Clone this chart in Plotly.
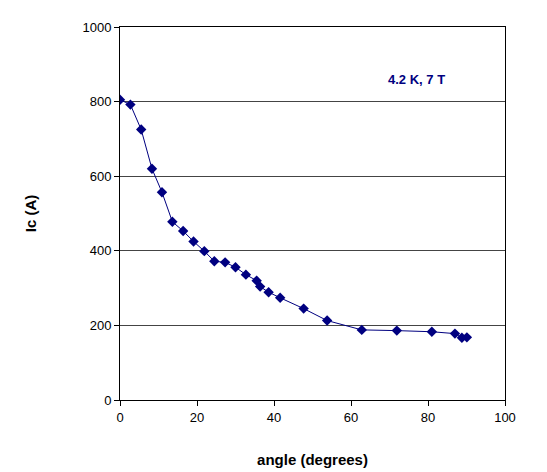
import plotly.graph_objects as go

angle = [0, 2.7, 5.5, 8.3, 10.9, 13.6, 16.4, 19.1, 21.9, 24.5, 27.3, 30.0, 32.7, 35.5,
         36.4, 38.6, 41.6, 47.7, 53.8, 62.8, 71.9, 81.0, 87.0, 88.8, 90.1]
ic = [805, 792, 725, 620, 557, 478, 453, 425, 399, 372, 369, 356, 336, 320,
      304, 289, 274, 245, 213, 188, 186, 183, 178, 167, 168]

navy = '#000080'
font = 'Liberation Sans, Arial, sans-serif'

fig = go.Figure(go.Scatter(
    x=angle, y=ic, mode='lines+markers',
    line=dict(color=navy, width=1),
    marker=dict(symbol='diamond', size=8, color=navy),
))

fig.add_annotation(x=77, y=860, text='<b>4.2 K, 7 T</b>', showarrow=False,
                   font=dict(size=13, color=navy, family=font))

fig.update_layout(
    width=547, height=472,
    margin=dict(l=112, r=50, t=17, b=80),
    plot_bgcolor='white', paper_bgcolor='white',
    font=dict(family=font, size=13, color='black'),
    showlegend=False,
    xaxis=dict(range=[0, 100], dtick=20, showgrid=False, zeroline=False,
               showline=True, linecolor='black', linewidth=1, mirror=True,
               ticks='outside', ticklen=5, tickcolor='black',
               title=dict(text='<b>angle (degrees)</b>', font=dict(size=15), standoff=30)),
    yaxis=dict(range=[0, 1000], dtick=200, showgrid=True, gridcolor='#444', gridwidth=1,
               zeroline=False, showline=True, linecolor='black', linewidth=1, mirror=True,
               ticks='outside', ticklen=5, tickcolor='black',
               title=dict(text='<b>Ic (A)</b>', font=dict(size=15), standoff=42)),
)

fig.write_html('out.html')
